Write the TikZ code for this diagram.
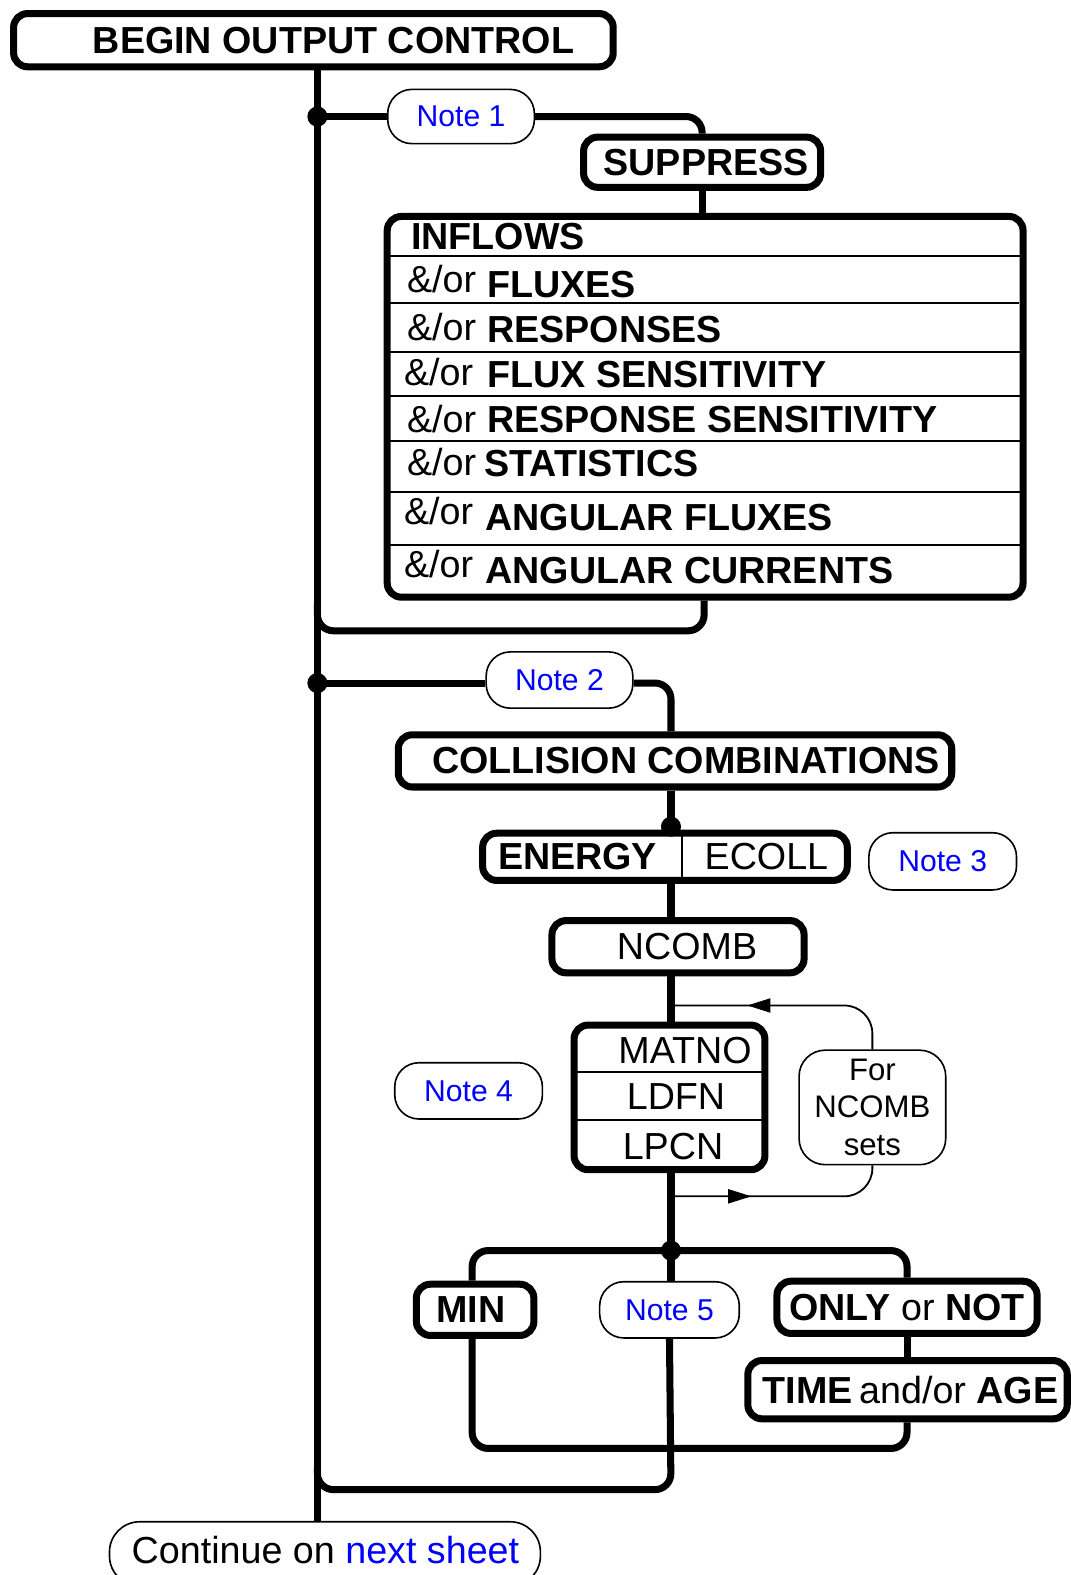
\documentclass[tikz,border=0pt]{standalone}
\usepackage{fontspec}
\setmainfont{Liberation Sans}
\usetikzlibrary{arrows.meta,decorations.markings}
\definecolor{noteblue}{RGB}{0,0,255}
\newcommand\fbig{\fontsize{37.5}{44}\selectfont}
\newcommand\fnote{\fontsize{30}{36}\selectfont}
\newcommand\ffor{\fontsize{31}{37}\selectfont}
\tikzset{ltip/.tip={Triangle[length=23pt,width=14pt]}}
\begin{document}
\begin{tikzpicture}[x=1pt,y=-1pt,
  boxT/.style={draw, line width=7pt, rounded corners=14pt, inner sep=0pt, font=\fbig},
  noteS/.style={draw, line width=1.6pt, rounded corners=24pt, inner sep=0pt, text=noteblue, font=\fnote, minimum width=146pt, minimum height=54pt},
  conn/.style={line width=7pt},
  thinl/.style={line width=1.8pt},
  sepl/.style={line width=2pt},
  txt/.style={inner sep=0pt, font=\fbig},
  rowt/.style={inner sep=0pt, font=\fbig, anchor=base west},
  jdot/.style={fill, circle, inner sep=0pt, minimum size=20pt}
]
\useasboundingbox (0,0) rectangle (1066,1568);

% coordinates used by connectors
\coordinate (j1) at (316,116);
\coordinate (j2) at (316,680);
\coordinate (t2) at (668,680);
\coordinate (j3) at (668,1245);
\coordinate (r1) at (701,628);
\coordinate (b3) at (668,1442);
\coordinate (r2) at (668,1483);
\coordinate (lt) at (668,1001);
\coordinate (lb) at (668,1191);
\coordinate (div) at (679,853);

% boxes
\node[boxT, minimum width=597pt, minimum height=53pt] (begin) at (312,40) {\hspace*{40pt}\textbf{BEGIN OUTPUT CONTROL}};
\node[noteS] (note1) at (459,116) {Note 1};
\node[boxT, minimum width=236pt, minimum height=50pt] (suppress) at (699,161.5) {\hspace*{8pt}\textbf{SUPPRESS}};
\node[boxT, minimum width=633pt, minimum height=379pt] (inflows) at (702,405) {};
\node[rowt] (row0) at (409,248) {\textbf{INFLOWS}};
\node[rowt] (row1) at (405,296) {\makebox[80pt][l]{\raisebox{5pt}{\&/or}}\textbf{FLUXES}};
\node[rowt] (row2) at (405,341) {\makebox[80pt][l]{\raisebox{2pt}{\&/or}}\textbf{RESPONSES}};
\node[rowt] (row3) at (402,386) {\makebox[83pt][l]{\raisebox{2pt}{\&/or}}\textbf{FLUX SENSITIVITY}};
\node[rowt] (row4) at (405,431) {\makebox[80pt][l]{\&/or}\textbf{RESPONSE SENSITIVITY}};
\node[rowt] (row5) at (405,474) {\makebox[77pt][l]{\raisebox{1pt}{\&/or}}\textbf{STATISTICS}};
\node[rowt] (row6) at (402,528) {\makebox[81pt][l]{\raisebox{6pt}{\&/or}}\textbf{ANGULAR FLUXES}};
\node[rowt] (row7) at (402,581) {\makebox[81pt][l]{\raisebox{6pt}{\&/or}}\textbf{ANGULAR CURRENTS}};
\draw[sepl] (388,255) -- (1016,255);
\draw[sepl] (388,302) -- (1014,302);
\draw[sepl] (388,350) -- (1016,350);
\draw[sepl] (388,394) -- (1016,394);
\draw[sepl] (388,439) -- (1016,439);
\draw[sepl] (388,490) -- (1016,490);
\draw[sepl] (388,543) -- (1016,543);

\node[noteS, minimum height=56pt] (note2) at (557,677) {Note 2};
\node[boxT, minimum width=551pt, minimum height=52pt] (coll) at (672,757.5) {\hspace*{22pt}\textbf{COLLISION COMBINATIONS}};
\node[boxT, minimum width=363pt, minimum height=47pt] (energy) at (662,853) {};
\node[txt] (energyt) at (575,853) {\textbf{ENERGY}};
\node[txt] (ecoll) at (763,853) {ECOLL};
\draw[thinl] (energy.north -| div) -- (energy.south -| div);
\node[noteS, minimum width=147pt, minimum height=57pt] (note3) at (938.5,857.5) {Note 3};
\node[boxT, minimum width=251pt, minimum height=52pt] (ncomb) at (675,942.5) {\hspace*{18pt}NCOMB};

\node[boxT, minimum width=190pt, minimum height=144pt] (matno) at (666.5,1092.5) {};
\node[txt] (matnot) at (682,1046) {MATNO};
\node[txt] (ldfn) at (673,1092) {LDFN};
\node[txt] (lpcn) at (670,1141) {LPCN};
\draw[sepl] (573,1067) -- (760,1067);
\draw[sepl] (573,1115) -- (760,1115);
\node[draw, line width=1.6pt, rounded corners=26pt, inner sep=0pt, minimum width=146pt, minimum height=114pt, align=center, font=\ffor] (forb) at (868.5,1102.5) {For\\NCOMB\\sets};
\node[noteS, minimum width=147pt, minimum height=56pt] (note4) at (466.5,1086) {Note 4};

\node[boxT, minimum width=117pt, minimum height=51pt] (min) at (473,1304) {\textbf{MIN}\hspace*{8pt}};
\node[noteS, minimum width=139pt, minimum height=56pt] (note5) at (666.5,1304) {Note 5};
\node[boxT, minimum width=259pt, minimum height=52pt] (only) at (903,1301.5) {\textbf{ONLY} or \textbf{NOT}};
\node[boxT, minimum width=318pt, minimum height=58pt] (time) at (903.5,1383.5) {\hspace*{6pt}\textbf{TIME}\,and/or \textbf{AGE}};

\node[draw, line width=1.6pt, rounded corners=30pt, inner sep=0pt, minimum width=429pt, minimum height=64pt, font=\fbig] (cont) at (323.5,1547) {};
\node[txt] (contt) at (324,1543) {Continue on \textcolor{noteblue}{next sheet}};

% trunk
\draw[conn] (begin.south -| j1) -- (cont.north -| j1);
% branch 1
\draw[conn] (j1) -- (j1 -| note1.west);
\draw[conn, rounded corners=16pt] (note1.east |- j1) -| (suppress.north);
\draw[conn] (suppress.south) -- (suppress.south |- inflows.north);
\draw[conn, rounded corners=16pt] (inflows.south -| r1) |- (316,628) -- (316,600);
% branch 2
\draw[conn] (j2) -- (j2 -| note2.west);
\draw[conn, rounded corners=16pt] (note2.east |- j2) -| (coll.north -| t2);
\draw[conn] (coll.south -| t2) -- (energy.north -| t2);
\draw[conn] (energy.south -| t2) -- (ncomb.north -| t2);
\draw[conn] (ncomb.south -| t2) -- (matno.north -| t2);
\draw[conn] (matno.south -| t2) -- (note5.north -| t2);
% loop
\draw[thinl, rounded corners=28pt, postaction={decorate},
  decoration={markings, mark=at position -76pt with {\arrow{ltip}}}]
  (forb.north) |- (lt);
\draw[thinl, rounded corners=28pt, postaction={decorate},
  decoration={markings, mark=at position 80pt with {\arrow{ltip}}}]
  (lb) -| (forb.south);
% branch 3
\draw[conn, rounded corners=16pt] (min.north -| 470,0) -- (470,1245) -- (903,1245) -- (only.north);
\draw[conn] (only.south) -- (time.north -| only.south);
\draw[conn, rounded corners=16pt] (min.south -| 470,0) -- (470,1442) -- (903,1442) -- (time.south -| only.south);
\draw[conn, rounded corners=16pt] (note5.south) -- (r2) -- (316,1483) -- (316,1460);

% junction dots
\node[jdot] (d1) at (j1) {};
\node[jdot] (d2) at (j2) {};
\node[jdot] (d3) at (668,823) {};
\node[jdot] (d4) at (j3) {};
\end{tikzpicture}
\end{document}
